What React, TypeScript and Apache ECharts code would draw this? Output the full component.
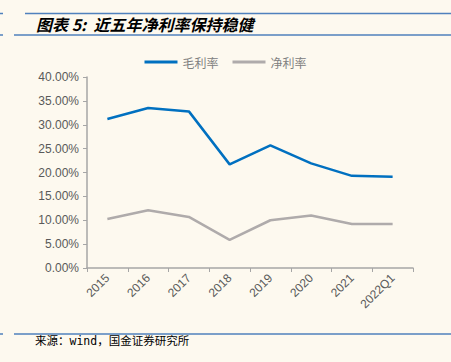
import React, { useEffect, useRef } from "react";
import * as echarts from "echarts";

const categories = ["2015", "2016", "2017", "2018", "2019", "2020", "2021", "2022Q1"];
const grossMargin = [31.2, 33.5, 32.8, 21.7, 25.7, 21.9, 19.3, 19.1];
const netMargin = [10.25, 12.1, 10.7, 5.9, 10.0, 11.0, 9.2, 9.2];
const seriesNames = ["毛利率", "净利率"];
const titleText = "图表 5:  近五年净利率保持稳健";
const sourceText = "来源：wind，国金证券研究所";

export default function App() {
  const ref = useRef<HTMLDivElement>(null);
  useEffect(() => {
    if (!ref.current) return;
    const chart = echarts.init(ref.current, null, { renderer: "svg" });
    const lineColor = "#4F81BD";
    chart.setOption({
      animation: false,
      backgroundColor: "#FDF9EF",
      legend: {
        top: 51,
        left: "center",
        itemWidth: 33,
        itemHeight: 3,
        itemGap: 14,
        icon: "rect",
        textStyle: { color: "#808080", fontSize: 12, fontFamily: "Noto Sans CJK SC" },
        data: seriesNames,
      },
      grid: { left: 87, right: 38, top: 77, bottom: 94, containLabel: false },
      xAxis: {
        type: "category",
        data: categories,
        boundaryGap: true,
        axisLine: { lineStyle: { color: "#A6A6A6", width: 1.5 } },
        axisTick: { show: true, interval: 0, length: 4, lineStyle: { color: "#A6A6A6" } },
        axisLabel: {
          interval: 0,
          rotate: 45,
          color: "#595959",
          fontSize: 12,
          fontFamily: "Liberation Sans",
          margin: 8,
        },
      },
      yAxis: {
        type: "value",
        min: 0,
        max: 40,
        interval: 5,
        splitLine: { show: false },
        axisLine: { show: true, lineStyle: { color: "#A6A6A6", width: 1.5 } },
        axisTick: { show: true, length: 4, lineStyle: { color: "#A6A6A6" } },
        axisLabel: {
          color: "#595959",
          fontSize: 12,
          fontFamily: "Liberation Sans",
          margin: 8,
          formatter: (v: number) => v.toFixed(2) + "%",
        },
      },
      series: [
        {
          name: seriesNames[0],
          type: "line",
          data: grossMargin,
          symbol: "none",
          lineStyle: { color: "#0070C0", width: 2.5 },
          itemStyle: { color: "#0070C0" },
        },
        {
          name: seriesNames[1],
          type: "line",
          data: netMargin,
          symbol: "none",
          lineStyle: { color: "#AFABAB", width: 2.5 },
          itemStyle: { color: "#AFABAB" },
        },
      ],
      graphic: [
        { type: "line", shape: { x1: 0, y1: 13.5, x2: 3, y2: 13.5 }, style: { stroke: lineColor, lineWidth: 1.5 } },
        { type: "line", shape: { x1: 25, y1: 13.5, x2: 451, y2: 13.5 }, style: { stroke: lineColor, lineWidth: 1.5 } },
        { type: "line", shape: { x1: 0, y1: 35, x2: 3, y2: 35 }, style: { stroke: lineColor, lineWidth: 1.5 } },
        { type: "line", shape: { x1: 14, y1: 35, x2: 451, y2: 35 }, style: { stroke: lineColor, lineWidth: 1.5 } },
        {
          type: "text",
          left: 36,
          top: 16,
          style: {
            text: titleText,
            fill: "#000",
            font: "italic bold 16px 'Noto Sans CJK SC'",
          },
        },
        { type: "line", shape: { x1: 0, y1: 334, x2: 3, y2: 334 }, style: { stroke: lineColor, lineWidth: 1.5 } },
        { type: "line", shape: { x1: 14, y1: 334, x2: 451, y2: 334 }, style: { stroke: lineColor, lineWidth: 1.5 } },
        {
          type: "text",
          left: 35,
          top: 335,
          style: {
            text: sourceText,
            fill: "#000",
            font: "11.5px 'DejaVu Sans Mono', 'Noto Sans CJK SC'",
          },
        },
      ],
    });
    return () => chart.dispose();
  }, []);
  return <div ref={ref} style={{ position: "fixed", left: 0, top: 0, width: 451, height: 362 }} />;
}
